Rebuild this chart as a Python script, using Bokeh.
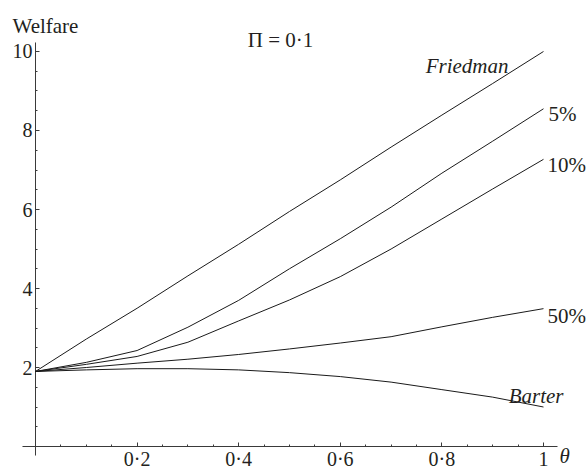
from bokeh.plotting import figure
from bokeh.models import FixedTicker, Label, Range1d
from bokeh.embed import file_html
from bokeh.resources import INLINE

# ---- data ----
theta = [0.0, 0.1, 0.2, 0.3, 0.4, 0.5, 0.6, 0.7, 0.8, 0.9, 1.0]
friedman = [1.9, 2.72, 3.50, 4.32, 5.12, 5.95, 6.75, 7.58, 8.39, 9.19, 10.0]
pct5 = [1.9, 2.13, 2.43, 3.02, 3.70, 4.50, 5.26, 6.06, 6.92, 7.73, 8.55]
pct10 = [1.9, 2.08, 2.28, 2.64, 3.18, 3.71, 4.30, 5.00, 5.76, 6.52, 7.27]
pct50 = [1.9, 2.00, 2.11, 2.21, 2.33, 2.47, 2.62, 2.78, 3.03, 3.27, 3.49]
barter = [1.9, 1.94, 1.97, 1.97, 1.94, 1.87, 1.77, 1.63, 1.44, 1.25, 1.00]

series_names = ["Friedman", "5%", "10%", "50%", "Barter"]
series_values = [friedman, pct5, pct10, pct50, barter]

x_ticks = [0.2, 0.4, 0.6, 0.8, 1.0]
x_tick_labels = ["0·2", "0·4", "0·6", "0·8", "1"]
x_minor = [0.05, 0.1, 0.15, 0.25, 0.3, 0.35, 0.45, 0.5, 0.55, 0.65, 0.7, 0.75,
           0.85, 0.9, 0.95]
y_ticks = [2, 4, 6, 8, 10]
y_tick_labels = ["2", "4", "6", "8", "10"]
y_minor = [0.5, 1, 1.5, 2.5, 3, 3.5, 4.5, 5, 5.5, 6.5, 7, 7.5, 8.5, 9, 9.5]

y_title = "Welfare"
x_title = "θ"
panel_title = "Π = 0·1"

FONT = "Liberation Serif"
FS = "21px"
TICK_FS = "20px"
INK = "#231f20"
AXC = "#3a3a3a"

# extent of the drawn axis lines
ax_x_lo, ax_x_hi = -0.0256, 1.0276
ax_y_lo, ax_y_hi = -0.228, 10.228

# plotting frame covers the whole canvas
x_lo, x_hi = -0.0689, 1.0886
y_lo, y_hi = -0.582, 11.291

p = figure(width=588, height=469, output_backend="svg", toolbar_location=None,
           x_range=Range1d(x_lo, x_hi), y_range=Range1d(y_lo, y_hi),
           min_border=0)
p.outline_line_color = None
p.grid.visible = False
p.background_fill_color = "white"
p.border_fill_color = "white"

# axis lines
p.segment(x0=[ax_x_lo, 0], y0=[0, ax_y_lo], x1=[ax_x_hi, 0], y1=[0, ax_y_hi],
          line_color=AXC, line_width=1)

for vals in series_values:
    p.line(theta, vals, line_color="#1a1a1a", line_width=1)

for ax in (p.xaxis[0], p.yaxis[0]):
    ax.fixed_location = 0
    ax.axis_line_color = None
    ax.major_tick_line_color = AXC
    ax.minor_tick_line_color = AXC
    ax.major_tick_in = 4
    ax.major_tick_out = 0
    ax.minor_tick_in = 2
    ax.minor_tick_out = 0
    ax.major_label_text_font = FONT
    ax.major_label_text_font_size = TICK_FS
    ax.major_label_text_color = INK

p.xaxis.ticker = FixedTicker(ticks=x_ticks, minor_ticks=x_minor)
p.xaxis.major_label_overrides = dict(zip(x_ticks, x_tick_labels))
p.xaxis.major_label_standoff = 1
p.yaxis.ticker = FixedTicker(ticks=y_ticks, minor_ticks=y_minor)
p.yaxis.major_label_overrides = dict(zip(y_ticks, y_tick_labels))
p.yaxis.major_label_standoff = 3


def lab(text, x, y, xo, yo, align="left", italic=False):
    p.add_layout(Label(x=x, y=y, x_offset=xo, y_offset=yo, text=text,
                       text_font=FONT, text_font_size=FS, text_color=INK,
                       text_align=align, text_baseline="alphabetic",
                       text_font_style="italic" if italic else "normal"))


# series labels, anchored at each line's end point
lab(series_names[0], theta[-1], friedman[-1], -35, -15, align="right", italic=True)
lab(series_names[1], theta[-1], pct5[-1], 5, -5)
lab(series_names[2], theta[-1], pct10[-1], 4, -6)
lab(series_names[3], theta[-1], pct50[-1], 4, -7)
lab(series_names[4], theta[-1], barter[-1], 20, 11, align="right", italic=True)

# axis titles and panel title
lab(y_title, 0, ax_y_hi, -23, 16)
lab(panel_title, 0.5, ax_y_hi, -9, 2, align="center")
lab(x_title, ax_x_hi, 0, 2, -9, italic=True)

open("out.html", "w").write(file_html(p, INLINE))
